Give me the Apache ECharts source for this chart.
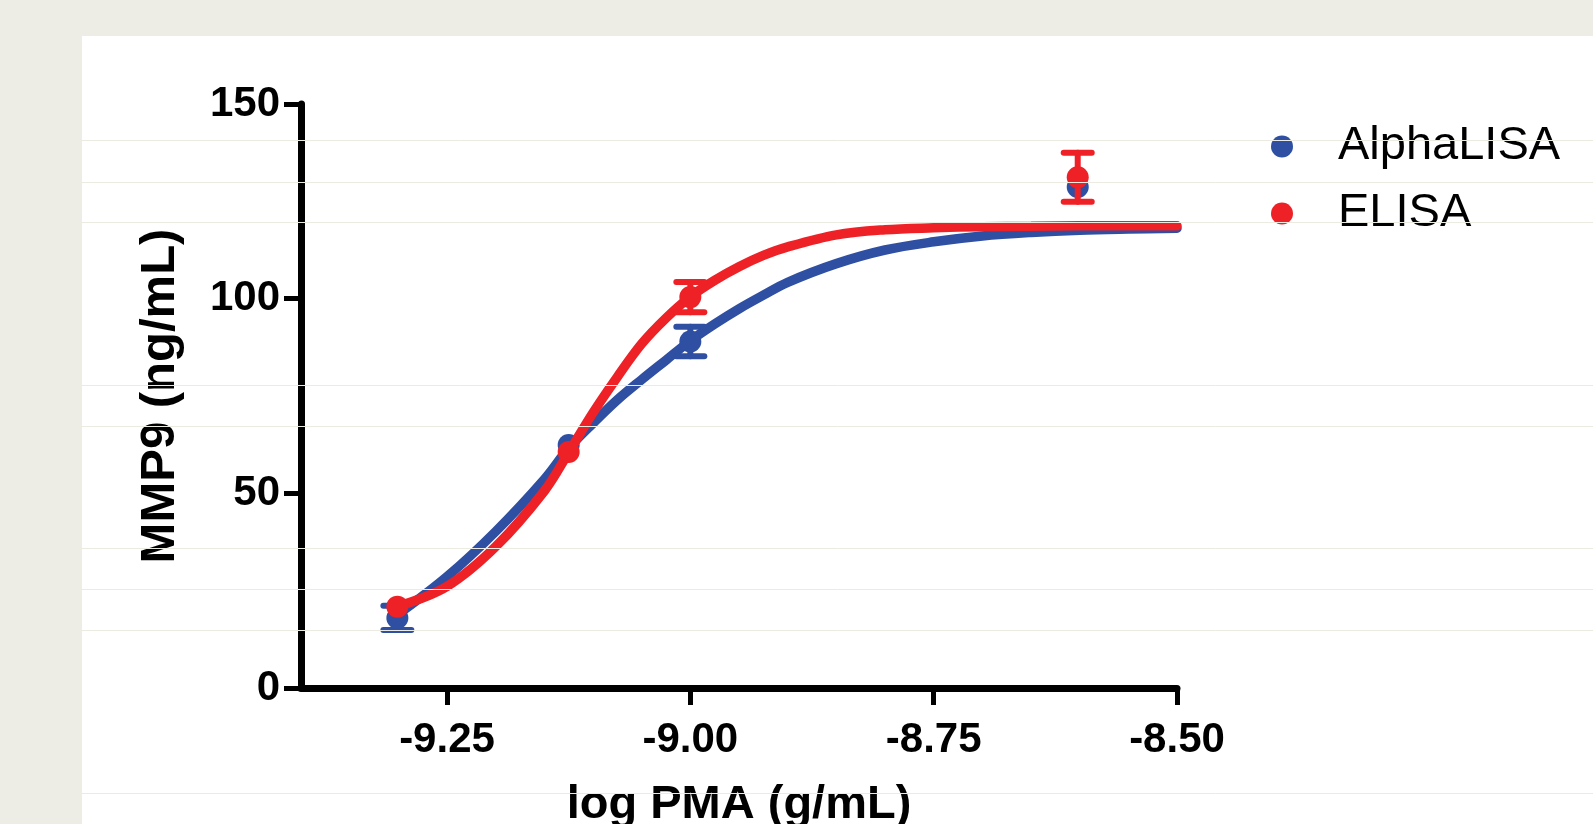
<!DOCTYPE html>
<html>
<head>
<meta charset="utf-8">
<script src="https://cdn.jsdelivr.net/npm/echarts@6/dist/echarts.min.js"></script>
<style>
  html, body { margin: 0; padding: 0; background: #edede5; }
  #chart { width: 1593px; height: 824px; }
</style>
</head>
<body>
<div id="chart"></div>
<script>
// measured points (log PMA g/mL)
const doses = [-9.301, -9.125, -9.0, -8.602]
const alphaMean = [18.0, 62.4, 89.0, 128.7]
const alphaErr = [3.1, 1.8, 3.8, 1.5]
const elisaMean = [20.9, 60.6, 100.4, 131.2]
const elisaErr = [1.5, 1.6, 3.9, 6.3]

// fitted curves
const fitX = [-9.3, -9.25, -9.2, -9.15, -9.125, -9.1, -9.075, -9.05, -9.025, -9.0, -8.975, -8.95, -8.925, -8.9, -8.85, -8.8, -8.75, -8.7, -8.65, -8.6, -8.55, -8.5]
const alphaFit = [19.0, 28.6, 40.2, 53.6, 61.6, 68.0, 74.0, 79.2, 84.2, 89.2, 93.5, 97.4, 100.9, 104.2, 109.0, 112.5, 114.6, 116.1, 117.0, 117.6, 117.9, 118.1]
const elisaFit = [21.0, 26.1, 36.3, 50.6, 60.5, 70.7, 79.9, 88.4, 95.0, 100.5, 104.7, 108.2, 111.1, 113.3, 116.4, 117.7, 118.2, 118.5, 118.6, 118.7, 118.7, 118.7]

const xTicks = [-9.25, -9.0, -8.75, -8.5]
const yTicks = [0, 50, 100, 150]

// page rule lines seen over the figure
const ruleLines = [140, 182, 222, 385, 426, 548, 589, 630, 793]

const BLUE = '#2f4fa2'
const RED = '#ee2127'
const FONT = '"Liberation Sans", Arial, sans-serif'
const DOT = 22

const zip = (xs, ys) => xs.map((x, i) => [x, ys[i]])
const errRows = (mean, err) => doses.map((x, i) => [x, mean[i] - err[i], mean[i] + err[i]])

// like Prism: bars shorter than the symbol are not drawn
const errorBar = (color) => (params, api) => {
  const x = api.value(0)
  const lo = api.coord([x, api.value(1)])
  const hi = api.coord([x, api.value(2)])
  if (lo[1] - hi[1] < DOT + 2) return null
  const half = 14
  const style = { stroke: color, lineWidth: 6, lineCap: 'round' }
  return {
    type: 'group',
    children: [
      { type: 'line', shape: { x1: lo[0], y1: lo[1], x2: hi[0], y2: hi[1] }, style },
      { type: 'line', shape: { x1: lo[0] - half, y1: lo[1], x2: lo[0] + half, y2: lo[1] }, style },
      { type: 'line', shape: { x1: hi[0] - half, y1: hi[1], x2: hi[0] + half, y2: hi[1] }, style }
    ]
  }
}

const myChart = echarts.init(document.getElementById('chart'))

const option = {
  backgroundColor: '#edede5',
  animation: false,
  grid: { left: 301, right: 416, top: 104, bottom: 136, outerBoundsMode: 'none' },
  graphic: [
    {
      type: 'rect',
      z: -10,
      shape: { x: 82, y: 36, width: 1511, height: 788 },
      style: { fill: '#ffffff' }
    },
    ...ruleLines.map((y) => ({
      type: 'line',
      z: 100,
      silent: true,
      shape: { x1: 82, y1: y + 0.5, x2: 1593, y2: y + 0.5 },
      style: { stroke: '#ebebe2', lineWidth: 1 }
    }))
  ],
  legend: {
    orient: 'vertical',
    left: 1266,
    top: 118,
    icon: 'circle',
    itemWidth: 102,
    itemHeight: 22,
    itemGap: 20,
    data: ['AlphaLISA', 'ELISA'],
    textStyle: { fontFamily: FONT, fontSize: 47, color: '#000' }
  },
  xAxis: {
    type: 'value',
    min: -9.4,
    max: -8.5,
    name: 'log PMA (g/mL)',
    nameLocation: 'middle',
    nameGap: 94,
    nameTextStyle: { fontFamily: FONT, fontSize: 47, fontWeight: 'bold', color: '#000' },
    axisLine: { lineStyle: { color: '#000', width: 7, cap: 'round' } },
    axisTick: {
      customValues: xTicks,
      length: 17,
      lineStyle: { color: '#000', width: 5 }
    },
    axisLabel: {
      customValues: xTicks,
      margin: 31,
      formatter: (v) => v.toFixed(2),
      fontFamily: FONT,
      fontSize: 42,
      fontWeight: 'bold',
      color: '#000'
    },
    splitLine: { show: false }
  },
  yAxis: {
    type: 'value',
    min: 0,
    max: 150,
    interval: 50,
    name: 'MMP9 (ng/mL)',
    nameLocation: 'middle',
    nameRotate: 90,
    nameGap: 116,
    nameTextStyle: { fontFamily: FONT, fontSize: 49, fontWeight: 'bold', color: '#000' },
    axisLine: { show: true, lineStyle: { color: '#000', width: 7, cap: 'round' } },
    axisTick: {
      show: true,
      customValues: yTicks,
      length: 17,
      lineStyle: { color: '#000', width: 5 }
    },
    axisLabel: {
      margin: 21,
      fontFamily: FONT,
      fontSize: 42,
      fontWeight: 'bold',
      color: '#000'
    },
    splitLine: { show: false }
  },
  series: [
    {
      name: 'AlphaLISA fit',
      type: 'line',
      data: zip(fitX, alphaFit),
      smooth: 0.35,
      showSymbol: false,
      lineStyle: { color: BLUE, width: 9.5, cap: 'round' },
      z: 2
    },
    {
      name: 'AlphaLISA err',
      type: 'custom',
      renderItem: errorBar(BLUE),
      encode: { x: 0, y: [1, 2] },
      data: errRows(alphaMean, alphaErr),
      z: 3
    },
    {
      name: 'AlphaLISA',
      type: 'scatter',
      symbol: 'circle',
      symbolSize: DOT,
      itemStyle: { color: BLUE, opacity: 1 },
      data: zip(doses, alphaMean),
      z: 4
    },
    {
      name: 'ELISA fit',
      type: 'line',
      data: zip(fitX, elisaFit),
      smooth: 0.35,
      showSymbol: false,
      lineStyle: { color: RED, width: 9.5, cap: 'round' },
      z: 5
    },
    {
      name: 'ELISA err',
      type: 'custom',
      renderItem: errorBar(RED),
      encode: { x: 0, y: [1, 2] },
      data: errRows(elisaMean, elisaErr),
      z: 6
    },
    {
      name: 'ELISA',
      type: 'scatter',
      symbol: 'circle',
      symbolSize: DOT,
      itemStyle: { color: RED, opacity: 1 },
      data: zip(doses, elisaMean),
      z: 7
    }
  ]
}

myChart.setOption(option)
</script>
</body>
</html>
